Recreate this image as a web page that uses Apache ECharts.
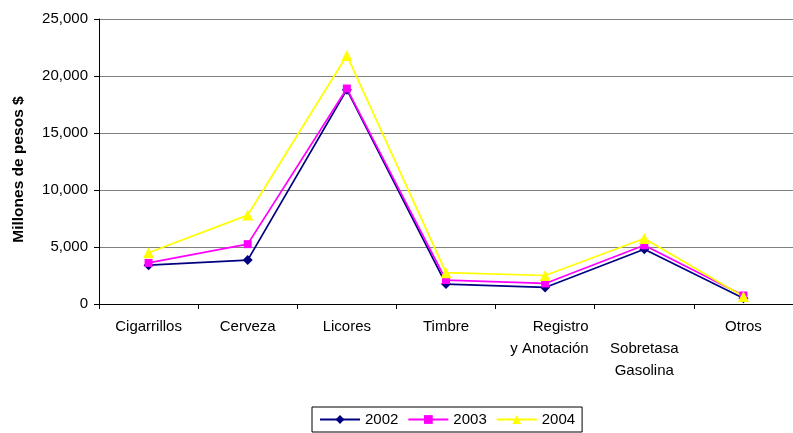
<!DOCTYPE html>
<html><head><meta charset="utf-8">
<script src="https://cdn.jsdelivr.net/npm/echarts@6/dist/echarts.min.js"></script>
<style>html,body{margin:0;padding:0;background:#fff}#c{width:793px;height:433px}</style>
</head><body><div id="c"></div>
<script>
const categories = ['Cigarrillos','Cerveza','Licores','Timbre','Registro\ny Anotación','Sobretasa\nGasolina','Otros'];
const s2002 = [3400, 3850, 18800, 1750, 1450, 4800, 500];
const s2003 = [3600, 5250, 18900, 2100, 1800, 5150, 750];
const s2004 = [4500, 7800, 21800, 2750, 2500, 5750, 650];
const yTicks = [0, 5000, 10000, 15000, 20000, 25000];

const font = 'Liberation Sans, Arial, sans-serif';
const chart = echarts.init(document.getElementById('c'));
function mk(name, data, color, symbol, size){
  return {name, type:'line', data, symbol, symbolSize:size, showSymbol:true,
    lineStyle:{color, width:1.75}, itemStyle:{color}, animation:false};
}
chart.setOption({
  animation:false,
  textStyle:{fontFamily:font},
  grid:{left:99, right:0, top:19, bottom:129},
  xAxis:{type:'category', data:categories, boundaryGap:true,
    axisLine:{lineStyle:{color:'#000', width:1}},
    axisTick:{show:true, inside:false, length:5, lineStyle:{color:'#000'}},
    axisLabel:{color:'#000', fontSize:15, fontFamily:font, margin:12, lineHeight:22, interval:0,
      formatter:(v,i)=> i===5 ? '\n'+v : (i===4 ? v.split('\n').map(s=>'{r|'+s+'}').join('\n') : v),
      rich:{r:{width:87, align:'right', fontSize:15, lineHeight:22, color:'#000', fontFamily:font}}}},
  yAxis:{type:'value', min:0, max:25000, interval:5000,
    name:'Millones de pesos $', nameLocation:'middle', nameGap:72, nameRotate:90,
    nameTextStyle:{color:'#000', fontSize:15.5, fontWeight:'bold', fontFamily:font, padding:[0,16,0,0]},
    axisLine:{show:true, lineStyle:{color:'#000'}},
    axisTick:{show:true, length:5, lineStyle:{color:'#000'}},
    splitLine:{show:true, lineStyle:{color:'#808080', width:1}},
    axisLabel:{color:'#000', fontSize:15, fontFamily:font, margin:11,
      formatter:v=>v.toLocaleString('en-US')}},
  legend:{bottom:1, left:312, itemWidth:40, itemHeight:11, itemGap:9,
    borderColor:'#000', borderWidth:1, padding:[5,7,5,7],
    textStyle:{color:'#000', fontSize:15, fontFamily:font},
    data:['2002','2003','2004']},
  series:[
    mk('2002', s2002, '#000080', 'diamond', 10),
    mk('2003', s2003, '#FF00FF', 'rect', 8),
    mk('2004', s2004, '#FFFF00', 'triangle', 11)
  ]
});
</script></body></html>
